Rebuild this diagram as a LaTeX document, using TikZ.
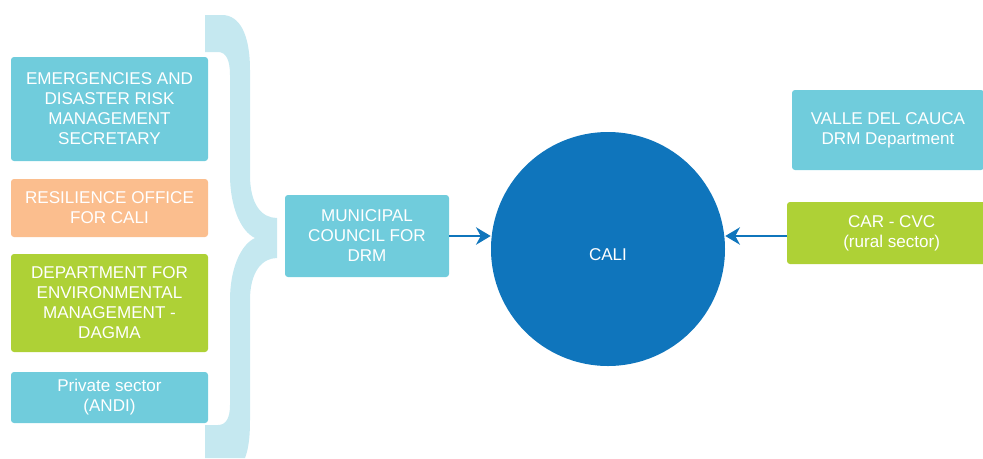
\documentclass[tikz,border=0pt]{standalone}
\usepackage{fontspec}
\setmainfont{Liberation Sans}
\usetikzlibrary{arrows.meta}

\definecolor{boxcyan}{RGB}{112,204,220}
\definecolor{boxorange}{RGB}{251,190,142}
\definecolor{boxgreen}{RGB}{174,209,54}
\definecolor{bracecol}{RGB}{197,232,240}
\definecolor{calicol}{RGB}{15,117,188}

\begin{document}
\begin{tikzpicture}[x=0.75pt, y=-0.75pt,
  box/.style={rounded corners=2.25pt, text=white, align=center,
    font=\fontsize{12.8pt}{15pt}\selectfont, inner sep=0pt},
  leftbox/.style={box, minimum width=147.75pt},
  link/.style={draw=calicol, line width=1.8pt,
    -{Stealth[length=11pt, width=13pt, inset=3.5pt]}}]

\useasboundingbox (0,0) rectangle (983,458);

\node[leftbox, fill=boxcyan, minimum height=78pt] (secretary) at (109.5,109)
  {EMERGENCIES AND\\DISASTER RISK\\MANAGEMENT\\SECRETARY};
\node[leftbox, fill=boxorange, minimum height=43.5pt] (resilience) at (109.5,208)
  {RESILIENCE OFFICE\\FOR CALI};
\node[leftbox, fill=boxgreen, minimum height=73.5pt] (dagma) at (109.5,303)
  {DEPARTMENT FOR\\ENVIRONMENTAL\\MANAGEMENT -\\DAGMA};
\node[leftbox, fill=boxcyan, minimum height=38.25pt] (private) at (109.5,397.5)
  {Private sector\\(ANDI)};

\fill[bracecol] (205,15) -- (222,15) .. controls (240,15) and (250,35) .. (250,70)
  -- (250,175) .. controls (250,205) and (262,218) .. (277,218)
  -- (277,258) .. controls (262,258) and (250,272) .. (250,300)
  -- (250,420) .. controls (250,440) and (248,450) .. (245,458)
  -- (205,458) -- (205,425) -- (218,425) .. controls (226,425) and (230,418) .. (230,405)
  -- (230,300) .. controls (230,270) and (240,245) .. (255,238)
  .. controls (240,231) and (230,205) .. (230,175)
  -- (230,75) .. controls (230,60) and (226,52) .. (218,52) -- (205,52) -- cycle;

\node[box, fill=boxcyan, minimum width=123pt, minimum height=61.5pt] (council) at (367,236)
  {MUNICIPAL\\COUNCIL FOR\\DRM};

\node[circle, fill=calicol, minimum size=175.5pt, inner sep=0pt,
  label={[text=white, yshift=-4pt, font=\fontsize{12.8pt}{15pt}\selectfont]center:CALI}]
  (cali) at (608,249) {};

\node[box, fill=boxcyan, minimum width=144pt, minimum height=60pt] (valle) at (888,130)
  {VALLE DEL CAUCA\\DRM Department};
\node[box, fill=boxgreen, minimum width=150pt, minimum height=46.5pt] (cvc) at (887,233)
  {\hspace*{7pt}CAR - CVC\\\hspace*{7pt}(rural sector)};

\draw[link] (council.east |- 0,236) -- (cali.west |- 0,236);
\draw[link] (cvc.west |- 0,236) -- (cali.east |- 0,236);

\end{tikzpicture}
\end{document}
